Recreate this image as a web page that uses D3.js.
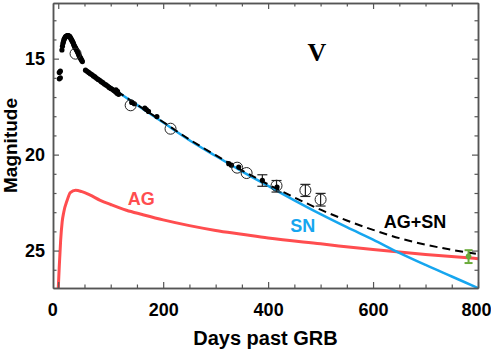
<!DOCTYPE html>
<html>
<head>
<meta charset="utf-8">
<script src="https://d3js.org/d3.v7.min.js"></script>
<style>
  body { margin: 0; background: #fff; }
  svg { display: block; font-family: "Liberation Sans", Arial, sans-serif; }
  .tick text { font-family: "Liberation Sans", Arial, sans-serif; font-size: 18px; font-weight: bold; fill: #000; }
</style>
</head>
<body>
<div id="chart"></div>
<script>
// afterglow model (red)
var agDays = [0, 2, 4.5, 7.5, 10.5, 17, 23, 33, 45, 60, 80, 100, 130, 160, 200, 250, 300, 350, 400, 500, 600, 700, 800];
var agMag = [27.0, 25.8, 24.5, 23.5, 23.0, 22.38, 21.98, 21.86, 21.93, 22.1, 22.38, 22.6, 22.9, 23.12, 23.4, 23.7, 23.95, 24.15, 24.35, 24.65, 24.95, 25.2, 25.42];

// supernova model (blue)
var snDays = [50, 100, 150, 200, 250, 300, 350, 400, 450, 500, 550, 600, 650, 700, 750, 800];
var snMag = [15.57, 16.49, 17.41, 18.33, 19.25, 20.07, 20.87, 21.63, 22.38, 23.1, 23.78, 24.43, 25.12, 25.75, 26.35, 26.95];

// AG+SN (dashed)
var sumDays = [50, 100, 150, 200, 250, 300, 350, 400, 450, 500, 550, 600, 650, 700, 750, 800];
var sumMag = [15.56, 16.48, 17.39, 18.3, 19.21, 20.03, 20.82, 21.55, 22.23, 22.87, 23.43, 23.92, 24.35, 24.69, 24.96, 25.18];

// filled data points
var dotDays = [2, 4, 2, 4,
  7, 8, 9, 10, 11, 12, 13, 14, 15, 16, 17, 18, 19, 20, 21, 22, 23, 24, 25, 26, 27, 28, 29, 30,
  31, 32, 33, 34, 35, 36, 37, 38, 39, 40, 41, 42, 43, 44, 45, 46,
  52, 55, 58, 61, 64, 67, 70, 73, 76, 79, 82, 85, 88, 91, 94, 97, 100, 103, 106, 109, 110, 112, 113, 115,
  140, 145, 165, 168, 172, 188, 325, 330, 344, 389, 417];
var dotMag = [15.72, 15.65, 16.05, 16.0,
  14.55, 14.35, 14.2, 14.1, 14.0, 13.95, 13.9, 13.85, 13.85, 13.82, 13.8, 13.8, 13.8, 13.82, 13.82, 13.85, 13.9, 13.95, 14.0, 14.05, 14.1, 14.15, 14.22, 14.3,
  14.35, 14.4, 14.45, 14.5, 14.55, 14.6, 14.65, 14.72, 14.8, 14.85, 14.9, 14.95, 15.0, 15.05, 15.1, 15.15,
  15.6, 15.66, 15.72, 15.78, 15.83, 15.9, 15.95, 16.02, 16.08, 16.13, 16.2, 16.25, 16.32, 16.37, 16.43, 16.5, 16.55, 16.6, 16.66, 16.72, 16.62, 16.8, 16.7, 16.86,
  17.28, 17.35, 17.58, 17.65, 17.75, 18.02, 20.47, 20.55, 20.65, 21.34, 21.69];

// open circles
var circDays = [33, 138, 214, 341, 359, 416, 471, 500];
var circMag = [14.74, 17.43, 18.65, 20.68, 20.96, 21.62, 21.86, 22.34];

// error bars [day, low mag, high mag]
var errDays = [389, 416, 471, 500];
var errLow = [21.05, 21.35, 21.55, 22.02];
var errHigh = [21.65, 21.95, 22.18, 22.68];

// late point (green)
var lateDay = [782];
var lateMag = [25.3];
var lateLow = [24.98];
var lateHigh = [25.65];

var svgWidth = 491, svgHeight = 353;
var margin = {top: 3, right: 13, bottom: 65, left: 53},
    width = svgWidth - margin.left - margin.right,
    height = svgHeight - margin.top - margin.bottom;

var red = '#ff4d4f', blue = '#16a6ef', green = '#6aab3a', axisColor = '#555';

var svg = d3.select('#chart')
  .append('svg')
  .attr('width', svgWidth)
  .attr('height', svgHeight);

var chartGroup = svg.append('g')
  .attr('transform', `translate(${margin.left}, ${margin.top})`);

var x = d3.scaleLinear().domain([-10, 800]).range([0, width]);
var y = d3.scaleLinear().domain([12.1, 26.95]).range([0, height]);

// clip lines to the frame
chartGroup.append('clipPath')
  .attr('id', 'clip')
  .append('rect')
  .attr('width', width)
  .attr('height', height);

var plot = chartGroup.append('g').attr('clip-path', 'url(#clip)');

var line = d3.line()
  .x(d => x(d[0]))
  .y(d => y(d[1]))
  .curve(d3.curveMonotoneX);

// model curves
plot.append('path')
  .datum(agDays.map((d, i) => [d, agMag[i]]))
  .attr('d', line)
  .attr('fill', 'none')
  .attr('stroke', red)
  .attr('stroke-width', 3);

plot.append('path')
  .datum(snDays.map((d, i) => [d, snMag[i]]))
  .attr('d', line)
  .attr('fill', 'none')
  .attr('stroke', blue)
  .attr('stroke-width', 2.5);

plot.append('path')
  .datum(sumDays.map((d, i) => [d, sumMag[i]]))
  .attr('d', line)
  .attr('fill', 'none')
  .attr('stroke', '#000')
  .attr('stroke-width', 2)
  .attr('stroke-dasharray', '8,5');

// error bars
var errGroup = plot.append('g')
  .attr('stroke', '#222')
  .attr('stroke-width', 1.2);
errDays.forEach(function(d, i) {
  errGroup.append('line')
    .attr('x1', x(d)).attr('x2', x(d))
    .attr('y1', y(errLow[i])).attr('y2', y(errHigh[i]));
  errGroup.append('line')
    .attr('x1', x(d) - 5).attr('x2', x(d) + 5)
    .attr('y1', y(errLow[i])).attr('y2', y(errLow[i]));
  errGroup.append('line')
    .attr('x1', x(d) - 5).attr('x2', x(d) + 5)
    .attr('y1', y(errHigh[i])).attr('y2', y(errHigh[i]));
});

// filled dots
plot.selectAll('.dot')
  .data(dotDays.map((d, i) => [d, dotMag[i]]))
  .enter()
  .append('circle')
  .classed('dot', true)
  .attr('cx', d => x(d[0]))
  .attr('cy', d => y(d[1]))
  .attr('r', 2.6)
  .attr('fill', '#000');

// open circles
plot.selectAll('.open')
  .data(circDays.map((d, i) => [d, circMag[i]]))
  .enter()
  .append('circle')
  .classed('open', true)
  .attr('cx', d => x(d[0]))
  .attr('cy', d => y(d[1]))
  .attr('r', 5.5)
  .attr('fill', 'none')
  .attr('stroke', '#222')
  .attr('stroke-width', 1);

// green late point
lateDay.forEach(function(d, i) {
  var g = plot.append('g').attr('stroke', green).attr('stroke-width', 2);
  g.append('line')
    .attr('x1', x(d)).attr('x2', x(d))
    .attr('y1', y(lateLow[i])).attr('y2', y(lateHigh[i]));
  g.append('line')
    .attr('x1', x(d) - 4).attr('x2', x(d) + 4)
    .attr('y1', y(lateLow[i])).attr('y2', y(lateLow[i]));
  g.append('line')
    .attr('x1', x(d) - 4).attr('x2', x(d) + 4)
    .attr('y1', y(lateHigh[i])).attr('y2', y(lateHigh[i]));
  plot.append('circle')
    .attr('cx', x(d))
    .attr('cy', y(lateMag[i]))
    .attr('r', 2.8)
    .attr('fill', green);
});

// axes: major + minor ticks, all pointing inward
var xMajor = [0, 200, 400, 600, 800];
var xMinor = d3.range(50, 800, 50).filter(d => d % 200 !== 0);
var yMajor = [15, 20, 25];
var yMinor = d3.range(13, 27, 1).filter(d => d % 5 !== 0);

function styleAxis(g) {
  g.select('.domain').attr('stroke', axisColor).attr('stroke-width', 1.5);
  g.selectAll('.tick line').attr('stroke', axisColor).attr('stroke-width', 1.2);
}

var xAxis = chartGroup.append('g')
  .attr('transform', `translate(0, ${height})`)
  .call(d3.axisBottom(x).tickValues(xMajor).tickSize(-6).tickPadding(15).tickSizeOuter(0))
  .call(styleAxis);
xAxis.selectAll('.tick text').filter(d => d === 0).attr('dx', -6);
xAxis.selectAll('.tick text').filter(d => d === 800).attr('dx', -2);

chartGroup.append('g')
  .attr('transform', `translate(0, ${height})`)
  .call(d3.axisBottom(x).tickValues(xMinor).tickSize(-3.5).tickFormat('').tickSizeOuter(0))
  .call(styleAxis);

chartGroup.append('g')
  .call(d3.axisTop(x).tickValues(xMajor).tickSize(-6).tickFormat('').tickSizeOuter(0))
  .call(styleAxis);
chartGroup.append('g')
  .call(d3.axisTop(x).tickValues(xMinor).tickSize(-3.5).tickFormat('').tickSizeOuter(0))
  .call(styleAxis);

chartGroup.append('g')
  .call(d3.axisLeft(y).tickValues(yMajor).tickSize(-6).tickPadding(8).tickSizeOuter(0))
  .call(styleAxis);
chartGroup.append('g')
  .call(d3.axisLeft(y).tickValues(yMinor).tickSize(-3.5).tickFormat('').tickSizeOuter(0))
  .call(styleAxis);

chartGroup.append('g')
  .attr('transform', `translate(${width}, 0)`)
  .call(d3.axisRight(y).tickValues(yMajor).tickSize(-6).tickFormat('').tickSizeOuter(0))
  .call(styleAxis);
chartGroup.append('g')
  .attr('transform', `translate(${width}, 0)`)
  .call(d3.axisRight(y).tickValues(yMinor).tickSize(-3.5).tickFormat('').tickSizeOuter(0))
  .call(styleAxis);

// axis titles
chartGroup.append('text')
  .attr('x', width / 2)
  .attr('y', height + 57)
  .attr('text-anchor', 'middle')
  .style('font-size', '20px')
  .style('font-weight', 'bold')
  .text('Days past GRB');

chartGroup.append('text')
  .attr('transform', `translate(${-36}, ${height / 2}) rotate(-90)`)
  .attr('text-anchor', 'middle')
  .style('font-size', '19px')
  .style('font-weight', 'bold')
  .text('Magnitude');

// curve labels
chartGroup.append('text')
  .attr('x', x(493))
  .attr('y', 58)
  .attr('text-anchor', 'middle')
  .style('font-family', '"Liberation Serif", serif')
  .style('font-size', '26px')
  .style('font-weight', 'bold')
  .text('V');

chartGroup.append('text')
  .attr('x', x(158)).attr('y', 202)
  .attr('text-anchor', 'middle')
  .style('font-size', '18px').style('font-weight', 'bold')
  .attr('fill', red)
  .text('AG');

chartGroup.append('text')
  .attr('x', x(466)).attr('y', 229)
  .attr('text-anchor', 'middle')
  .style('font-size', '18px').style('font-weight', 'bold')
  .attr('fill', blue)
  .text('SN');

chartGroup.append('text')
  .attr('x', x(680)).attr('y', 225)
  .attr('text-anchor', 'middle')
  .style('font-size', '18px').style('font-weight', 'bold')
  .attr('fill', '#000')
  .text('AG+SN');
</script>
</body>
</html>
